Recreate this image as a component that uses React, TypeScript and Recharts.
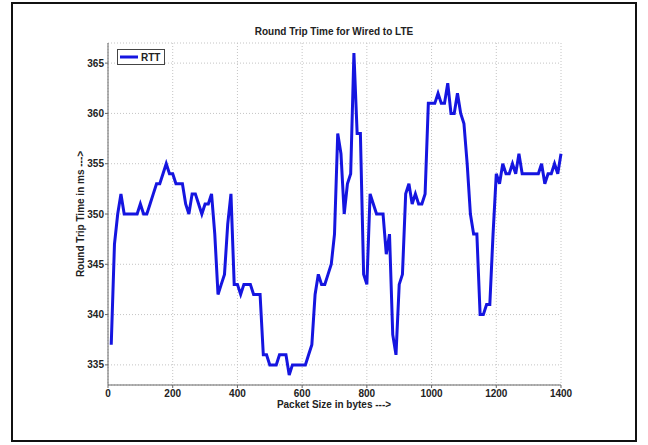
import { LineChart, Line, XAxis, YAxis, CartesianGrid } from "recharts";

// packet sizes in bytes
const sizes = [
  10, 20, 30, 40, 50, 60, 70, 80, 90, 100, 110, 120, 130, 140, 150, 160, 170, 180, 190, 200,
  210, 220, 230, 240, 250, 260, 270, 280, 290, 300, 310, 320, 330, 340, 350, 360, 370, 380, 390, 400,
  410, 420, 430, 440, 450, 460, 470, 480, 490, 500, 510, 520, 530, 540, 550, 560, 570, 580, 590, 600,
  610, 620, 630, 640, 650, 660, 670, 680, 690, 700, 710, 720, 730, 740, 750, 760, 770, 780, 790, 800,
  810, 820, 830, 840, 850, 860, 870, 880, 890, 900, 910, 920, 930, 940, 950, 960, 970, 980, 990, 1000,
  1010, 1020, 1030, 1040, 1050, 1060, 1070, 1080, 1090, 1100, 1110, 1120, 1130, 1140, 1150, 1160, 1170, 1180, 1190, 1200,
  1210, 1220, 1230, 1240, 1250, 1260, 1270, 1280, 1290, 1300, 1310, 1320, 1330, 1340, 1350, 1360, 1370, 1380, 1390, 1400,
];

// round trip time in ms
const rtt = [
  337, 347, 350, 352, 350, 350, 350, 350, 350, 351, 350, 350, 351, 352, 353, 353, 354, 355, 354, 354,
  353, 353, 353, 351, 350, 352, 352, 351, 350, 351, 351, 352, 348, 342, 343, 344, 349, 352, 343, 343,
  342, 343, 343, 343, 342, 342, 342, 336, 336, 335, 335, 335, 336, 336, 336, 334, 335, 335, 335, 335,
  335, 336, 337, 342, 344, 343, 343, 344, 345, 348, 358, 356, 350, 353, 354, 366, 358, 358, 344, 343,
  352, 351, 350, 350, 350, 346, 348, 338, 336, 343, 344, 352, 353, 351, 352, 351, 351, 352, 361, 361,
  361, 362, 361, 361, 363, 360, 360, 362, 360, 359, 355, 350, 348, 348, 340, 340, 341, 341, 348, 354,
  353, 355, 354, 354, 355, 354, 356, 354, 354, 354, 354, 354, 354, 355, 353, 354, 354, 355, 354, 356,
];

const xTicks = [0, 200, 400, 600, 800, 1000, 1200, 1400];
const yTicks = [335, 340, 345, 350, 355, 360, 365];

const data = sizes.map((s, i) => ({ size: s, rtt: rtt[i] }));

const font = "'Liberation Sans', Arial, sans-serif";
const tickStyle = { fontSize: 10, fontWeight: 700, fill: "#222", fontFamily: font };

export default function App() {
  return (
    <div style={{ position: "absolute", left: 0, top: 0, width: 648, height: 445, background: "#fff" }}>
      {/* outer frame */}
      <div
        style={{
          position: "absolute",
          left: 11,
          top: 2,
          width: 626,
          height: 440,
          border: "2px solid #111",
          boxSizing: "border-box",
        }}
      />
      <LineChart
        width={648}
        height={445}
        data={data}
        margin={{ top: 43, right: 87, bottom: 30, left: 68 }}
        style={{ position: "absolute", left: 0, top: 0 }}
      >
        <CartesianGrid stroke="#c4c4c4" strokeDasharray="1 2" />
        <XAxis
          dataKey="size"
          type="number"
          domain={[0, 1400]}
          ticks={xTicks}
          height={30}
          tickSize={3}
          tickMargin={2}
          stroke="#666"
          tick={tickStyle}
          interval={0}
        />
        <YAxis
          type="number"
          domain={[333, 367]}
          ticks={yTicks}
          width={40}
          tickSize={3}
          tickMargin={1}
          stroke="#666"
          tick={tickStyle}
          interval={0}
        />
        <Line
          type="linear"
          dataKey="rtt"
          stroke="#1515e0"
          strokeWidth={3}
          dot={false}
          isAnimationActive={false}
        />
      </LineChart>
      <svg
        width={648}
        height={445}
        style={{ position: "absolute", left: 0, top: 0, pointerEvents: "none" }}
      >
        <text x={334} y={35} textAnchor="middle" fontSize={10} fontWeight={700} fontFamily={font} fill="#222">
          Round Trip Time for Wired to LTE
        </text>
        <text x={334} y={408} textAnchor="middle" fontSize={10} fontWeight={700} fontFamily={font} fill="#222">
          {"Packet Size in bytes --->"}
        </text>
        <text
          x={0}
          y={0}
          transform="translate(84,214) rotate(-90)"
          textAnchor="middle"
          fontSize={10}
          fontWeight={700}
          fontFamily={font}
          fill="#222"
        >
          {"Round Trip Time in ms --->"}
        </text>
        {/* legend */}
        <rect x={117.5} y={49.5} width={47} height={15} fill="#fff" stroke="#444" strokeWidth={1} />
        <line x1={120} y1={57} x2={138} y2={57} stroke="#1515e0" strokeWidth={3} />
        <text x={141} y={61} fontSize={10} fontWeight={700} fontFamily={font} fill="#222">
          RTT
        </text>
      </svg>
    </div>
  );
}
